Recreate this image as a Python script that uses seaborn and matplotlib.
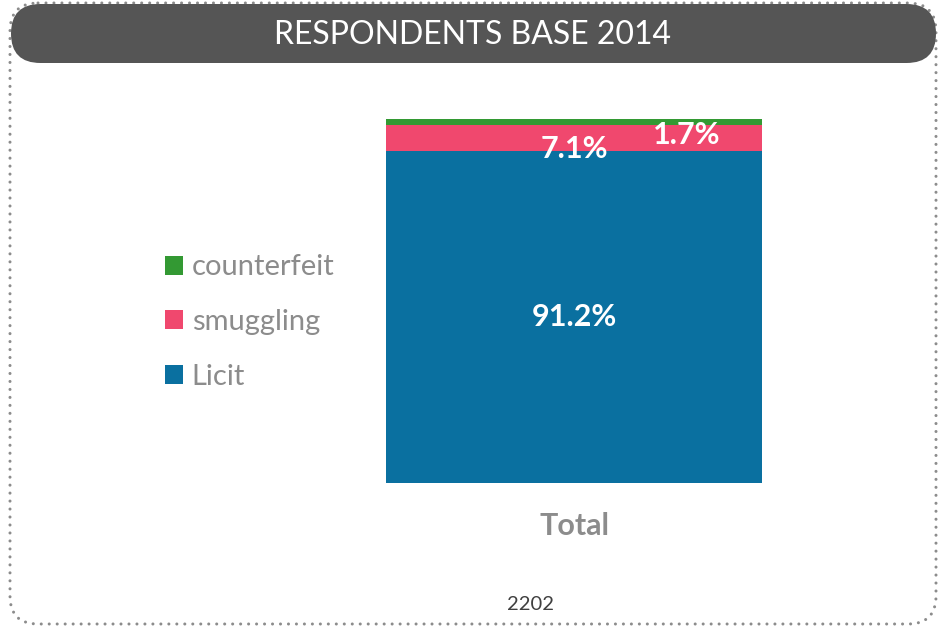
import pandas as pd
import seaborn as sns
import matplotlib.pyplot as plt
from matplotlib.patches import FancyBboxPatch

# Data
segments = ['counterfeit', 'smuggling', 'Licit']
shares = [1.7, 7.1, 91.2]
category = 'Total'
base_label = '2202'
title = 'RESPONDENTS BASE 2014'

colors = {'counterfeit': '#339933', 'smuggling': '#f0486e', 'Licit': '#0a70a0'}

# cumulative tops so bars can be overlaid as a stack (Licit at the bottom)
df = pd.DataFrame({'segment': segments, 'share': shares})
df['top'] = df['share'][::-1].cumsum()[::-1]
df['center'] = df['top'] - df['share'] / 2
df['cat'] = category

sns.set_theme(style='white')
plt.rcParams['font.family'] = ['Lato', 'DejaVu Sans']

fig = plt.figure(figsize=(9.38, 6.26), dpi=100)

# decoration layer in pixel coords
bg = fig.add_axes([0, 0, 1, 1], zorder=0)
bg.set_xlim(0, 938)
bg.set_ylim(626, 0)
bg.axis('off')
bg.add_patch(FancyBboxPatch((10, 3), 926, 621, boxstyle='round,pad=0,rounding_size=28',
                            fill=False, edgecolor='#8c8c8c', linewidth=2.2,
                            linestyle=(0, (0.01, 2.6)), capstyle='round'))
bg.add_patch(FancyBboxPatch((11, 4), 925, 59, boxstyle='round,pad=0,rounding_size=29.5',
                            facecolor='#555555', edgecolor='none'))
bg.text(473, 35, title, color='white', fontsize=23, ha='center', va='center')
bg.text(530, 605, base_label, color='#404040', fontsize=14.5, ha='center', va='center')

# the stacked bar
ax = fig.add_axes([386 / 938, 1 - 483 / 626, 376 / 938, 364 / 626], zorder=1)
ax.patch.set_alpha(0)
for _, row in df.iterrows():
    sns.barplot(x='cat', y='top', data=df[df['segment'] == row['segment']],
                color=colors[row['segment']], width=0.8, saturation=1,
                linewidth=0, label=row['segment'], ax=ax)
ax.set_xlim(-0.4, 0.4)
ax.set_ylim(0, 100)
sns.despine(ax=ax, left=True, bottom=True)
ax.set_yticks([])
ax.set_xlabel('')
ax.set_ylabel('')
ax.tick_params(axis='x', length=0, pad=21)
for t in ax.get_xticklabels():
    t.set_fontsize(22)
    t.set_fontweight('bold')
    t.set_color('#8c8c8c')

# data labels (offsets mimic the original placement)
offsets = {'counterfeit': (81, -9.4), 'smuggling': (0, -7.5), 'Licit': (0, 0)}
for _, row in df.iterrows():
    ax.annotate(f"{row['share']:.1f}%", xy=(0, row['center']), xytext=offsets[row['segment']],
                textcoords='offset points', ha='center', va='center',
                color='white', fontsize=22, fontweight='bold')

leg = ax.legend(loc='center left', bbox_to_anchor=(165 / 938, 1 - 322 / 626),
                bbox_transform=fig.transFigure, frameon=False, fontsize=21,
                handlelength=0.62, handleheight=0.62, handletextpad=0.3,
                labelspacing=0.98, borderpad=0, borderaxespad=0)
for t in leg.get_texts():
    t.set_color('#8c8c8c')

fig.savefig('out.png', dpi=100)
